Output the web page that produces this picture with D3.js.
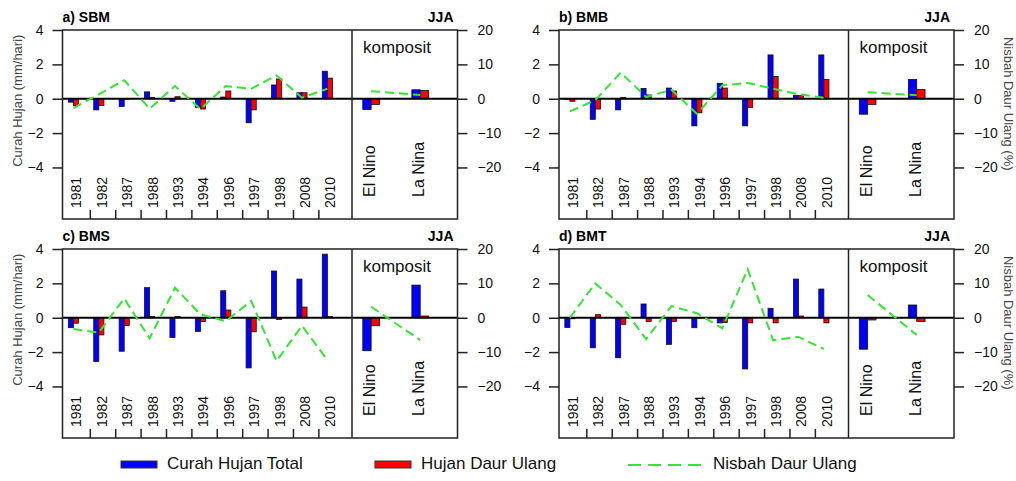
<!DOCTYPE html>
<html>
<head>
<meta charset="utf-8">
<script src="https://cdn.jsdelivr.net/npm/d3@7"></script>
<style>
  body { margin: 0; background: #fff; }
  svg text { font-family: "Liberation Sans", Arial, Helvetica, sans-serif; }
</style>
</head>
<body>
<svg id="chart" width="1016" height="481"></svg>
<script>
// categories
var years = ["1981", "1982", "1987", "1988", "1993", "1994", "1996", "1997", "1998", "2008", "2010"];
var comps = ["El Nino", "La Nina"];
var leftTicks = [-4, -2, 0, 2, 4];
var rightTicks = [-20, -10, 0, 10, 20];

// a) SBM
var sbmTotal = [-0.2, -0.65, -0.45, 0.4, -0.15, -0.5, 0.1, -1.4, 0.8, 0.35, 1.6];
var sbmRecyc = [-0.4, -0.4, -0.02, 0.08, 0.12, -0.6, 0.45, -0.65, 1.15, 0.35, 1.2];
var sbmRatio = [-2.7, 1.3, 5.4, -2.9, 3.7, -3.0, 3.7, 2.9, 6.8, 0.3, 2.9];
var sbmCompTotal = [-0.63, 0.52];
var sbmCompRecyc = [-0.33, 0.48];
var sbmCompRatio = [2.2, 1.1];

// b) BMB
var bmbTotal = [-0.03, -1.2, -0.65, 0.6, 0.62, -1.58, 0.9, -1.58, 2.55, 0.2, 2.55];
var bmbRecyc = [-0.15, -0.6, 0.08, 0.22, 0.45, -0.82, 0.62, -0.5, 1.3, 0.18, 1.12];
var bmbRatio = [-3.7, -0.4, 7.6, 0.5, 2.6, -4.4, 3.9, 4.6, 2.9, 1.3, 0.3];
var bmbCompTotal = [-0.9, 1.12];
var bmbCompRecyc = [-0.33, 0.54];
var bmbCompRatio = [1.9, 1.0];

// c) BMS
var bmsTotal = [-0.58, -2.55, -1.95, 1.75, -1.15, -0.8, 1.57, -2.92, 2.72, 2.25, 3.7];
var bmsRecyc = [-0.32, -1.0, -0.45, 0.07, 0.07, -0.22, 0.45, -0.82, -0.1, 0.62, 0.07];
var bmsRatio = [-3.3, -4.3, 5.6, -6.0, 8.7, 1.0, -1.0, 4.9, -12.6, -2.3, -12.3];
var bmsCompTotal = [-1.92, 1.9];
var bmsCompRecyc = [-0.47, 0.1];
var bmsCompRatio = [3.2, -6.5];

// d) BMT
var bmtTotal = [-0.57, -1.75, -2.33, 0.8, -1.55, -0.58, -0.3, -2.98, 0.55, 2.25, 1.67];
var bmtRecyc = [-0.06, 0.18, -0.38, -0.22, -0.22, -0.02, -0.28, -0.3, -0.3, 0.1, -0.3];
var bmtRatio = [0.0, 10.0, 3.7, -6.2, 3.4, 1.3, -3.1, 14.1, -6.5, -5.6, -9.1];
var bmtCompTotal = [-1.83, 0.74];
var bmtCompRecyc = [-0.13, -0.22];
var bmtCompRatio = [6.6, -5.0];

var blue = "#0000ff", red = "#ff0000", green = "#33e633";

var panels = [
  {name: "a) SBM", L: 62.5, T: 30, leftTitle: true,
   total: sbmTotal, recyc: sbmRecyc, ratio: sbmRatio,
   cTotal: sbmCompTotal, cRecyc: sbmCompRecyc, cRatio: sbmCompRatio},
  {name: "b) BMB", L: 559, T: 30, rightTitle: true,
   total: bmbTotal, recyc: bmbRecyc, ratio: bmbRatio,
   cTotal: bmbCompTotal, cRecyc: bmbCompRecyc, cRatio: bmbCompRatio},
  {name: "c) BMS", L: 62.5, T: 249, leftTitle: true,
   total: bmsTotal, recyc: bmsRecyc, ratio: bmsRatio,
   cTotal: bmsCompTotal, cRecyc: bmsCompRecyc, cRatio: bmsCompRatio},
  {name: "d) BMT", L: 559, T: 249, rightTitle: true,
   total: bmtTotal, recyc: bmtRecyc, ratio: bmtRatio,
   cTotal: bmtCompTotal, cRecyc: bmtCompRecyc, cRatio: bmtCompRatio}
];

var W = 395, H = 189, split = 289.5;
var svg = d3.select("#chart");

panels.forEach(function(p){
  var g = svg.append("g");
  var xY = d3.scaleLinear().domain([-0.43, 10.97]).range([p.L, p.L + split]);
  var xC = d3.scaleLinear().domain([-0.39, 1.76]).range([p.L + split, p.L + W]);
  var y = d3.scaleLinear().domain([-7, 4]).range([p.T + H, p.T]);
  var yR = d3.scaleLinear().domain([-35, 20]).range([p.T + H, p.T]);
  var idx = d3.range(years.length);

  // bars
  function bars(xs, vals, off, bw, col){
    g.selectAll(null).data(vals).enter().append("rect")
      .attr("x", function(d, i){ return xs(i + off); })
      .attr("width", xs(bw) - xs(0))
      .attr("y", function(d){ return y(Math.max(0, d)); })
      .attr("height", function(d){ return Math.abs(y(d) - y(0)); })
      .attr("fill", col)
      .attr("stroke", "#111")
      .attr("stroke-width", 0.8);
  }
  bars(xY, p.total, -0.2, 0.2, blue);
  bars(xY, p.recyc, 0, 0.2, red);
  bars(xC, p.cTotal, -0.17, 0.17, blue);
  bars(xC, p.cRecyc, 0, 0.17, red);

  // zero line
  g.append("line")
    .attr("x1", p.L).attr("x2", p.L + W)
    .attr("y1", y(0)).attr("y2", y(0))
    .attr("stroke", "#000").attr("stroke-width", 2);

  // ratio lines
  var line = d3.line()
    .x(function(d, i){ return xY(i); })
    .y(function(d){ return yR(d); });
  g.append("path").attr("d", line(p.ratio))
    .attr("fill", "none").attr("stroke", green)
    .attr("stroke-width", 2).attr("stroke-dasharray", "9,5");
  var lineC = d3.line()
    .x(function(d, i){ return xC(i); })
    .y(function(d){ return yR(d); });
  g.append("path").attr("d", lineC(p.cRatio))
    .attr("fill", "none").attr("stroke", green)
    .attr("stroke-width", 2).attr("stroke-dasharray", "9,5");

  // frame and divider
  g.append("rect")
    .attr("x", p.L).attr("y", p.T).attr("width", W).attr("height", H)
    .attr("fill", "none").attr("stroke", "#222").attr("stroke-width", 1.5);
  g.append("line")
    .attr("x1", p.L + split).attr("x2", p.L + split)
    .attr("y1", p.T).attr("y2", p.T + H)
    .attr("stroke", "#222").attr("stroke-width", 1.5);

  // axes
  var axL = g.append("g").attr("transform", "translate(" + p.L + ",0)")
    .call(d3.axisLeft(y).tickValues(leftTicks).tickSize(10).tickPadding(9));
  var axR = g.append("g").attr("transform", "translate(" + (p.L + W) + ",0)")
    .call(d3.axisRight(yR).tickValues(rightTicks).tickSize(10).tickPadding(10));
  [axL, axR].forEach(function(ax){
    ax.select(".domain").remove();
    ax.selectAll("line").attr("stroke", "#222").attr("stroke-width", 1.5);
    ax.selectAll("text").attr("font-size", 14).attr("fill", "#111")
      .attr("font-family", "Liberation Sans, Arial, sans-serif");
  });

  // year ticks between labels
  g.selectAll(null).data(idx.slice(1)).enter().append("line")
    .attr("x1", function(i){ return xY(i - 0.335); })
    .attr("x2", function(i){ return xY(i - 0.335); })
    .attr("y1", p.T + H).attr("y2", p.T + H - 9)
    .attr("stroke", "#222").attr("stroke-width", 1.5);

  // year labels
  g.selectAll(null).data(years).enter().append("text")
    .attr("transform", function(d, i){
      return "translate(" + (xY(i) + 8) + "," + (p.T + H - 11) + ") rotate(-90)";
    })
    .attr("font-size", 14).attr("fill", "#111")
    .text(function(d){ return d; });
  g.selectAll(null).data(comps).enter().append("text")
    .attr("transform", function(d, i){
      return "translate(" + (xC(i) + 4) + "," + (p.T + H - 22) + ") rotate(-90)";
    })
    .attr("font-size", 16).attr("fill", "#111")
    .text(function(d){ return d; });

  // titles
  g.append("text").attr("x", p.L).attr("y", p.T - 8)
    .attr("font-size", 14).attr("font-weight", "bold").text(p.name);
  g.append("text").attr("x", p.L + W - 4).attr("y", p.T - 8)
    .attr("text-anchor", "end")
    .attr("font-size", 14).attr("font-weight", "bold").text("JJA");
  g.append("text").attr("x", p.L + split + 11).attr("y", p.T + 23)
    .attr("font-size", 17).attr("fill", "#111").text("komposit");

  if(p.leftTitle){
    g.append("text")
      .attr("transform", "translate(" + (p.L - 45) + "," + (y(0) + 2) + ") rotate(-90)")
      .attr("text-anchor", "middle").attr("dominant-baseline", "central")
      .attr("font-size", 13).attr("fill", "#444")
      .text("Curah Hujan (mm/hari)");
  }
  if(p.rightTitle){
    g.append("text")
      .attr("transform", "translate(" + (p.L + W + 54) + "," + (y(0) + 5) + ") rotate(90)")
      .attr("text-anchor", "middle").attr("dominant-baseline", "central")
      .attr("font-size", 13).attr("fill", "#444")
      .text("Nisbah Daur Ulang (%)");
  }
});

// legend
var leg = svg.append("g");
var legItems = [
  {label: "Curah Hujan Total", col: blue, x: 121, type: "bar"},
  {label: "Hujan Daur Ulang", col: red, x: 375, type: "bar"},
  {label: "Nisbah Daur Ulang", col: green, x: 628, type: "line"}
];
legItems.forEach(function(it){
  if(it.type === "bar"){
    leg.append("rect").attr("x", it.x).attr("y", 461)
      .attr("width", 36).attr("height", 7)
      .attr("fill", it.col).attr("stroke", "#333").attr("stroke-width", 1);
    leg.append("text").attr("x", it.x + 46).attr("y", 469)
      .attr("font-size", 17).attr("fill", "#111").text(it.label);
  } else {
    leg.append("line").attr("x1", it.x).attr("x2", it.x + 75)
      .attr("y1", 465).attr("y2", 465)
      .attr("stroke", it.col).attr("stroke-width", 2)
      .attr("stroke-dasharray", "13,7");
    leg.append("text").attr("x", it.x + 85).attr("y", 469)
      .attr("font-size", 17).attr("fill", "#111").text(it.label);
  }
});
</script>
</body>
</html>
